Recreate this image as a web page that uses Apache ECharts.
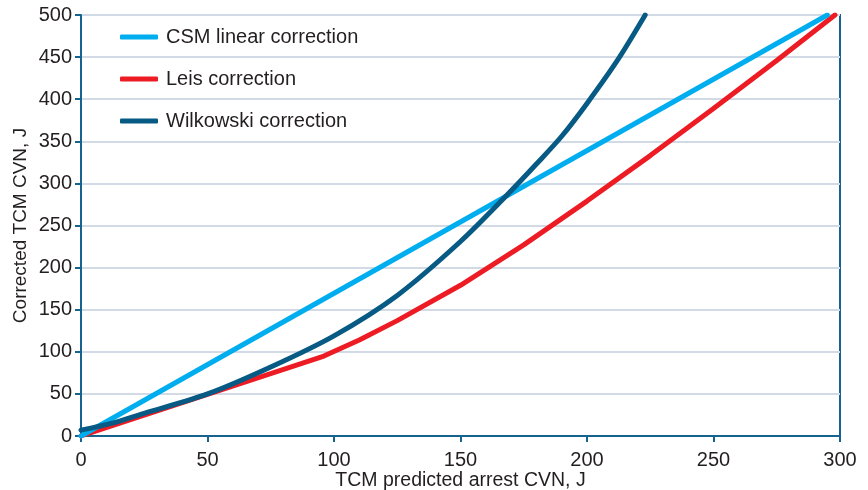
<!DOCTYPE html>
<html>
<head>
<meta charset="utf-8">
<script src="https://cdn.jsdelivr.net/npm/echarts@6/dist/echarts.min.js"></script>
<style>html,body{margin:0;padding:0;background:#fff;}#c{width:868px;height:490px;}</style>
</head>
<body>
<div id="c"></div>
<script>
const seriesNames = ['CSM linear correction', 'Leis correction', 'Wilkowski correction'];
const xTicks = [0, 50, 100, 150, 200, 250, 300];
const yTicks = [0, 50, 100, 150, 200, 250, 300, 350, 400, 450, 500];

const csmX = [0, 295];
const csmY = [0, 500];

const leisX = [0, 96, 110, 125, 150, 175, 200, 225, 250, 275, 298];
const leisY = [0, 95, 114, 137, 179, 227, 279, 333, 389, 446, 500];

const wilX = [0, 12, 25, 50, 75, 100, 125, 150, 168, 180, 190, 200, 212, 223];
const wilY = [7, 15, 27, 50, 82, 119, 167, 231, 285, 323, 356, 395, 446, 500];

const colors = ['#00aeef', '#ed1c24', '#065a84'];
const axisColor = '#17638f';
const textColor = '#231f20';
const font = 'Liberation Sans, Arial, sans-serif';

function pairs(xs, ys) { return xs.map((x, i) => [x, ys[i]]); }

const chart = echarts.init(document.getElementById('c'), null, {renderer: 'canvas'});
chart.setOption({
  animation: false,
  backgroundColor: '#fff',
  textStyle: {fontFamily: font},
  grid: {left: 81, right: 28, top: 15, bottom: 54, show: true, borderColor: axisColor, borderWidth: 2, containLabel: false, outerBoundsMode: 'none'},
  legend: {
    orient: 'vertical', left: 120, top: 26, padding: 0,
    itemWidth: 38, itemHeight: 5, itemGap: 20,
    icon: 'roundRect',
    textStyle: {fontSize: 20, color: textColor, fontFamily: font, lineHeight: 22, padding: [0, 0, 0, 3]},
    data: seriesNames
  },
  xAxis: {
    type: 'value', min: xTicks[0], max: xTicks[xTicks.length - 1], interval: 50,
    name: 'TCM predicted arrest CVN, J', nameLocation: 'middle', nameGap: 35, nameMoveOverlap: false,
    nameTextStyle: {fontSize: 19.5, color: textColor, fontFamily: font},
    axisLine: {show: true, lineStyle: {color: axisColor, width: 2}},
    axisTick: {show: true, length: 6, lineStyle: {color: axisColor, width: 2}},
    axisLabel: {fontSize: 20, color: textColor, margin: 14, fontFamily: font},
    splitLine: {show: false}
  },
  yAxis: {
    type: 'value', min: yTicks[0], max: yTicks[yTicks.length - 1], interval: 50,
    name: 'Corrected TCM CVN, J', nameLocation: 'middle', nameGap: 51, nameMoveOverlap: false,
    nameTextStyle: {fontSize: 19, color: textColor, fontFamily: font},
    axisLine: {show: true, lineStyle: {color: axisColor, width: 2}},
    axisTick: {show: true, length: 6, lineStyle: {color: axisColor, width: 2}},
    axisLabel: {fontSize: 20, color: textColor, margin: 9, fontFamily: font},
    splitLine: {show: true, lineStyle: {color: '#d2dae5', width: 2}}
  },
  series: [
    {name: seriesNames[0], type: 'line', data: pairs(csmX, csmY), showSymbol: false, symbol: 'none', color: colors[0], lineStyle: {width: 5, color: colors[0], cap: 'round'}, z: 3},
    {name: seriesNames[1], type: 'line', data: pairs(leisX, leisY), showSymbol: false, symbol: 'none', color: colors[1], lineStyle: {width: 5, color: colors[1], cap: 'round'}, z: 2},
    {name: seriesNames[2], type: 'line', data: pairs(wilX, wilY), smooth: 0.3, showSymbol: false, symbol: 'none', color: colors[2], lineStyle: {width: 5, color: colors[2], cap: 'round'}, z: 4}
  ]
});
</script>
</body>
</html>
